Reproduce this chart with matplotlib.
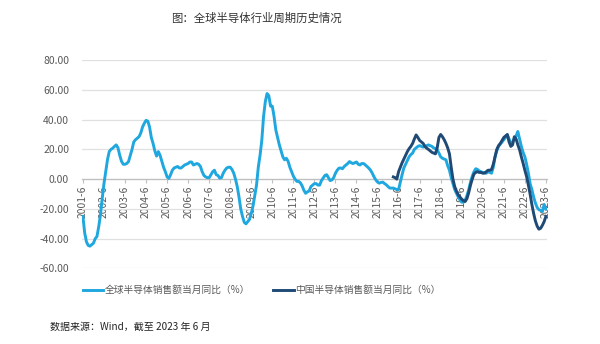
import matplotlib
matplotlib.use("Agg")
import matplotlib.pyplot as plt
import numpy as np
import pandas as pd

plt.rcParams['font.family'] = ['Noto Sans CJK SC', 'DejaVu Sans']

# Monthly YoY growth (%), global semiconductor sales, 2001-06 .. 2023-06
global_yoy = [
    -25, -36, -42, -44.5, -45, -44, -43, -40, -38.5, -32, -24, -13,          # 2001-06..
    -3, 5, 13, 18.5, 20, 20.8, 22, 23, 21, 16, 12, 10,                       # 2002-06..
    10, 10.5, 11.8, 16, 20, 25, 26.5, 27.5, 28.5, 31, 35, 37.5,              # 2003-06..
    39.5, 39, 35, 28, 24, 19, 15.5, 18.5, 16, 12, 8, 5,                      # 2004-06..
    1.5, 0.5, 3, 6, 7.5, 8, 8.5, 7.5, 7.5, 8.5, 9.5, 10,                     # 2005-06..
    10.5, 11.5, 11.5, 9.5, 10, 10.5, 10, 8.5, 5, 2.5, 1.5, 1,                # 2006-06..
    1, 3, 5, 6, 3, 2.5, 0.7, 1, 4, 6, 7.5, 8,                                # 2007-06..
    8, 6.5, 4, 0, -5, -12, -20, -25, -29, -30, -28.5, -27,                   # 2008-06..
    -23, -18, -11, -4, 8, 16, 26, 42, 52, 57.5, 56, 49,                      # 2009-06..
    49, 42, 33, 28, 23, 19, 15, 13, 14, 12, 8, 5,                            # 2010-06..
    2, 0, -1.5, -1.5, -2.5, -4.5, -7.5, -9.5, -8.5, -8, -5, -4,              # 2011-06..
    -3, -3, -4, -4, -1, 0.7, 2.5, 3, 1, -1, -0.5, 1,                         # 2012-06..
    4, 6, 7.4, 7.5, 7, 8.5, 9.5, 10.5, 11.8, 11, 10.5, 11,                   # 2013-06..
    11.5, 10, 9.5, 10.5, 10.5, 9.6, 8.5, 7.4, 6, 4, 1.5, -0.5,               # 2014-06..
    -2, -2.7, -2.2, -2, -3, -3.8, -5, -6, -6, -6, -6.5, -7,                  # 2015-06..
    -7, -2, 3, 7.5, 10, 12.5, 15, 16.5, 17.5, 20, 21, 22,                    # 2016-06..
    22.5, 22, 21.5, 22, 22.5, 23, 22.5, 22, 21, 20.5, 19.7, 17.5,            # 2017-06..
    15, 14, 13.5, 13, 9, 6, 1, -3, -7, -9.5, -12, -14,                       # 2018-06..
    -15.5, -15.5, -14, -11, -7, -2, 2, 5, 7, 6.5, 5.5, 5,                    # 2019-06..
    4.5, 4.5, 4, 5, 4.5, 4, 8, 15, 19, 22, 23.5, 25,                         # 2020-06..
    26.5, 28, 29.7, 27, 24, 25, 27, 29, 32, 27, 22, 18,                      # 2021-06..
    15, 10, 4, -3, -7, -12, -16, -19, -20.5, -21, -21.7, -17,                # 2022-06..
    -20,                                                                     # 2023-06
]

# Monthly YoY growth (%), China semiconductor sales, 2016-03 .. 2023-06
china_start = 177
china_yoy = [
    1.5, 1, 0, 5, 8, 11, 13.5, 16, 18.5, 20.5,                               # 2016-03..
    22, 24, 27, 29.7, 28, 26, 25, 24, 22, 20.8, 20, 19,                      # 2017-01..
    18, 17.5, 17, 21, 28, 30, 28.5, 26.5, 24, 21, 17, 8,                     # 2018-01..
    0, -5, -8, -10.5, -12, -13.5, -14.5, -15, -13, -9, -4, 0,                # 2019-01..
    3.5, 4.5, 5, 4.5, 4.5, 4, 4, 5, 6, 6, 6.5, 10,                           # 2020-01..
    15, 20, 22.5, 24, 26, 28, 29, 30, 25, 22, 23, 28.5,                      # 2021-01..
    27, 23, 19.7, 15, 10.7, 6, 1.7, -4, -10, -17, -23, -28,                  # 2022-01..
    -31.5, -33.6, -33, -31, -28.5, -25,                                      # 2023-01..
]

tick_years = list(range(2001, 2024))
tick_labels = [f"{y}-6" for y in tick_years]

series_names = ["全球半导体销售额当月同比（%）", "中国半导体销售额当月同比（%）"]
title_text = "图：全球半导体行业周期历史情况"
source_text = "数据来源：Wind，截至 2023 年 6 月"

light_blue = "#1FA7DF"
navy = "#1F4A76"
text_grey = "#595959"

months = pd.period_range("2001-06", periods=len(global_yoy), freq="M")
x_global = np.arange(len(months))
x_china = np.arange(china_start, china_start + len(china_yoy))
tick_pos = [months.get_loc(pd.Period(f"{y}-06", freq="M")) for y in tick_years]

fig = plt.figure(figsize=(6.0, 3.44), dpi=100)
ax = fig.add_axes([0.136, 0.2195, 0.775, 0.606])

# The x axis runs along the zero line; place the spine before styling ticks
for s in ("top", "right", "left"):
    ax.spines[s].set_visible(False)
ax.spines["bottom"].set_position(("data", 0))
ax.spines["bottom"].set_color("#BFBFBF")
ax.spines["bottom"].set_linewidth(0.9)

ax.plot(x_global, global_yoy, color=light_blue, lw=2.1, label=series_names[0],
        solid_joinstyle="round", zorder=3)
ax.plot(x_china, china_yoy, color=navy, lw=2.1, label=series_names[1],
        solid_joinstyle="round", zorder=4)

ax.set_xlim(-0.75, 264.4)
ax.set_ylim(-60, 80)
ax.set_yticks(np.arange(-60, 81, 20))
ax.set_yticklabels([f"{v:.2f}" for v in np.arange(-60, 81, 20)],
                   fontsize=7.5, color=text_grey)
ax.tick_params(axis="y", length=0, pad=9)

ax.set_xticks(tick_pos)
ax.set_xticklabels(tick_labels, rotation=90, fontsize=7.4, color=text_grey)
ax.tick_params(axis="x", length=3, width=0.8, color="#BFBFBF", pad=1.5,
               direction="out")

ax.yaxis.grid(True, color="#E0E0E0", lw=0.9)
ax.set_axisbelow(True)

fig.text(0.427, 0.948, title_text, ha="center", va="center",
         fontsize=8.2, color="#333333")

fig.legend(loc="center", bbox_to_anchor=(0.436, 0.157), ncol=2, frameon=False,
           fontsize=7.0, handlelength=2.1, handletextpad=0.15,
           columnspacing=2.4, labelcolor=text_grey)

fig.text(0.083, 0.049, source_text, ha="left", va="center",
         fontsize=7.2, color="#222222")

fig.savefig("out.png", dpi=100)
